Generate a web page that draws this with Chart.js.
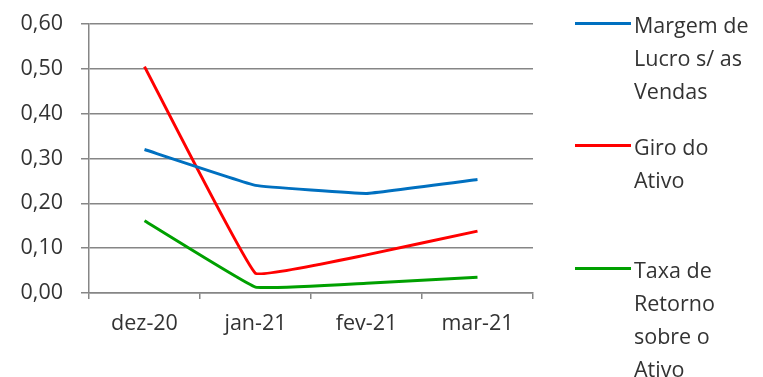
<!DOCTYPE html>
<html>
<head>
<meta charset="utf-8">
<script src="https://cdn.jsdelivr.net/npm/chart.js@4.4.1/dist/chart.umd.min.js"></script>
<style>
  html, body { margin: 0; padding: 0; background: #fff; }
  #wrap { position: relative; width: 763px; height: 377px; }
  canvas { position: absolute; left: 0; top: 0; }
  .leg { position: absolute; left: 575px; font-family: "Open Sans", sans-serif; font-size: 21.5px; color: #333333; line-height: 33px; }
  .leg .sw { position: absolute; left: 0; width: 56px; height: 3px; }
  .leg .tx { position: absolute; left: 59px; white-space: nowrap; }
</style>
</head>
<body>
<div id="wrap">
  <canvas id="c" width="763" height="377"></canvas>
  <div id="legend"></div>
</div>
<script>
const categories = ["dez-20", "jan-21", "fev-21", "mar-21"];
const seriesNames = [["Margem de", "Lucro s/ as", "Vendas"], ["Giro do", "Ativo"], ["Taxa de", "Retorno", "sobre o", "Ativo"]];
const margemLucro = [0.32, 0.24, 0.222, 0.253];
const giroAtivo = [0.505, 0.044, 0.085, 0.138];
const taxaRetorno = [0.161, 0.013, 0.022, 0.035];
const seriesColors = ["#0070C0", "#FF0000", "#00A000"];
const yTicks = [0, 0.1, 0.2, 0.3, 0.4, 0.5, 0.6];

const values = [margemLucro, giroAtivo, taxaRetorno];
const font = { family: "'Open Sans', sans-serif", size: 21.5 };
const textColor = "#333333";
const gridColor = "#868686";

new Chart(document.getElementById("c"), {
  type: "line",
  data: {
    labels: categories,
    datasets: values.map((v, i) => ({
      label: seriesNames[i].join(" "),
      data: v,
      borderColor: seriesColors[i],
      backgroundColor: seriesColors[i],
      borderWidth: 3,
      pointRadius: 0,
      tension: 0.07,
      fill: false
    }))
  },
  options: {
    responsive: false,
    animation: false,
    devicePixelRatio: 1,
    layout: { padding: { top: 24, right: 230, left: 0, bottom: 0 } },
    plugins: { legend: { display: false }, tooltip: { enabled: false } },
    scales: {
      x: {
        offset: true,
        afterFit: s => { s.height = 84; s.paddingLeft = 0; s.paddingRight = 0; },
        grid: { offset: true, drawOnChartArea: false, color: gridColor, tickLength: 6, lineWidth: 1.5 },
        border: { color: gridColor, width: 1.5 },
        ticks: { font: font, color: textColor, padding: 12, maxRotation: 0 }
      },
      y: {
        min: 0, max: 0.6,
        afterFit: s => { s.width = 89; s.paddingTop = 0; s.paddingBottom = 0; },
        afterBuildTicks: s => { s.ticks = yTicks.map(v => ({ value: v })); },
        grid: { color: gridColor, tickLength: 8, lineWidth: 1.5 },
        border: { color: gridColor, width: 1.5 },
        ticks: { font: font, color: textColor, padding: 18, callback: v => v.toFixed(2).replace(".", ",") }
      }
    }
  }
});

const legendTops = [8, 130, 253];
const lg = document.getElementById("legend");
seriesNames.forEach((lines, i) => {
  const d = document.createElement("div");
  d.className = "leg";
  d.style.top = legendTops[i] + "px";
  const sw = document.createElement("div");
  sw.className = "sw";
  sw.style.background = seriesColors[i];
  sw.style.top = "14px";
  const tx = document.createElement("div");
  tx.className = "tx";
  tx.innerHTML = lines.join("<br>");
  d.appendChild(sw);
  d.appendChild(tx);
  lg.appendChild(d);
});
</script>
</body>
</html>
